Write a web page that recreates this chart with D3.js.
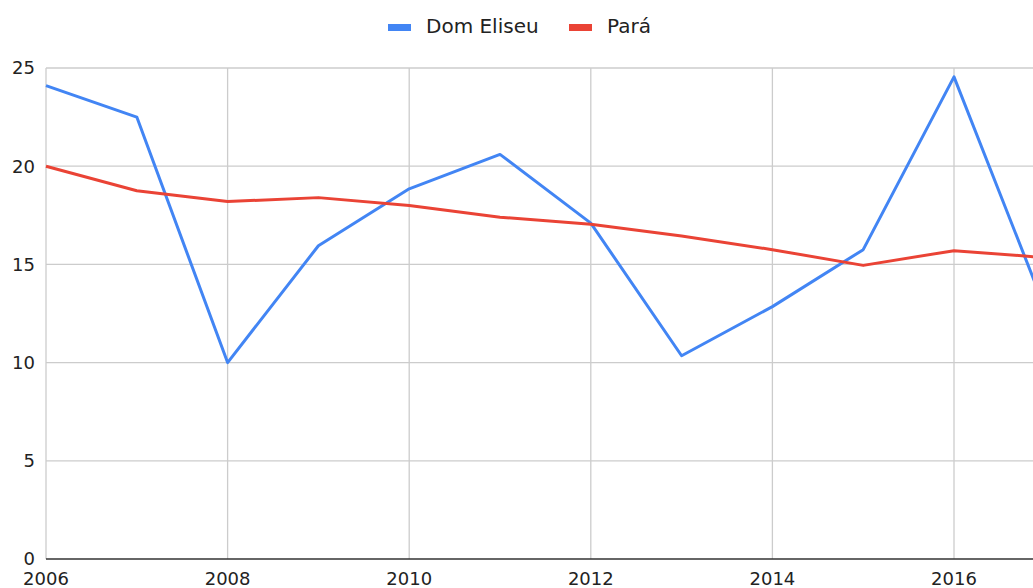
<!DOCTYPE html>
<html>
<head>
<meta charset="utf-8">
<script src="https://cdn.jsdelivr.net/npm/d3@7"></script>
<style>
  body { margin: 0; background: #fff; }
  svg { display: block; font-family: "DejaVu Sans", sans-serif; }
</style>
</head>
<body>
<svg id="svg" width="1033" height="588"></svg>
<script>
const years = [2006, 2007, 2008, 2009, 2010, 2011, 2012, 2013, 2014, 2015, 2016, 2017];
const domEliseu = [24.1, 22.5, 10.0, 15.95, 18.85, 20.6, 17.1, 10.35, 12.85, 15.75, 24.55, 12.8];
const para = [20.0, 18.75, 18.2, 18.4, 18.0, 17.4, 17.05, 16.45, 15.75, 14.95, 15.7, 15.35];
const xTicks = [2006, 2008, 2010, 2012, 2014, 2016];
const yTicks = [0, 5, 10, 15, 20, 25];
const seriesNames = ["Dom Eliseu", "Pará"];
const colors = ["#4285f4", "#ea4335"];

let container = d3.select("#svg");

// plot runs past the right edge of the picture (cropped chart)
let xScale = d3.scaleLinear().domain([2006, 2017]).range([46, 46 + 90.8 * 11]);
let yScale = d3.scaleLinear().domain([0, 25]).range([559, 68]);

// horizontal grid
container
  .append("g")
  .selectAll("line")
  .data(yTicks.filter((d) => d > 0))
  .enter()
  .append("line")
  .attr("x1", xScale(2006))
  .attr("x2", 1033)
  .attr("y1", (d) => yScale(d))
  .attr("y2", (d) => yScale(d))
  .attr("stroke", "#cccccc")
  .attr("stroke-width", 1.3);

// vertical grid
container
  .append("g")
  .selectAll("line")
  .data(xTicks)
  .enter()
  .append("line")
  .attr("x1", (d) => xScale(d))
  .attr("x2", (d) => xScale(d))
  .attr("y1", yScale(25))
  .attr("y2", yScale(0))
  .attr("stroke", "#cccccc")
  .attr("stroke-width", 1.3);

// baseline
container
  .append("line")
  .attr("x1", xScale(2006))
  .attr("x2", 1033)
  .attr("y1", yScale(0))
  .attr("y2", yScale(0))
  .attr("stroke", "#333333")
  .attr("stroke-width", 1.6);

// y labels
container
  .append("g")
  .selectAll("text")
  .data(yTicks)
  .enter()
  .append("text")
  .attr("x", 35)
  .attr("y", (d) => yScale(d))
  .attr("dy", "0.36em")
  .attr("text-anchor", "end")
  .attr("font-size", 18)
  .attr("fill", "#222")
  .text((d) => d);

// x labels
container
  .append("g")
  .selectAll("text")
  .data(xTicks)
  .enter()
  .append("text")
  .attr("x", (d) => xScale(d))
  .attr("y", 585)
  .attr("text-anchor", "middle")
  .attr("font-size", 18)
  .attr("fill", "#222")
  .text((d) => d);

// lines
[domEliseu, para].forEach((values, i) => {
  let linegenerate = d3
    .line()
    .x((d, j) => xScale(years[j]))
    .y((d) => yScale(d));
  container
    .append("path")
    .datum(values)
    .attr("d", linegenerate)
    .attr("fill", "none")
    .attr("stroke", colors[i])
    .attr("stroke-width", 3)
    .attr("stroke-linejoin", "round");
});

// legend
let legendX = [388, 569];
let legend = container
  .selectAll(".legend")
  .data(seriesNames)
  .enter()
  .append("g")
  .attr("class", "legend")
  .attr("transform", (d, i) => "translate(" + legendX[i] + ",24)");
legend
  .append("rect")
  .attr("width", 23)
  .attr("height", 7)
  .attr("fill", (d, i) => colors[i]);
legend
  .append("text")
  .attr("x", 38)
  .attr("y", 9)
  .attr("font-size", 20)
  .attr("fill", "#222")
  .text((d) => d);
</script>
</body>
</html>
